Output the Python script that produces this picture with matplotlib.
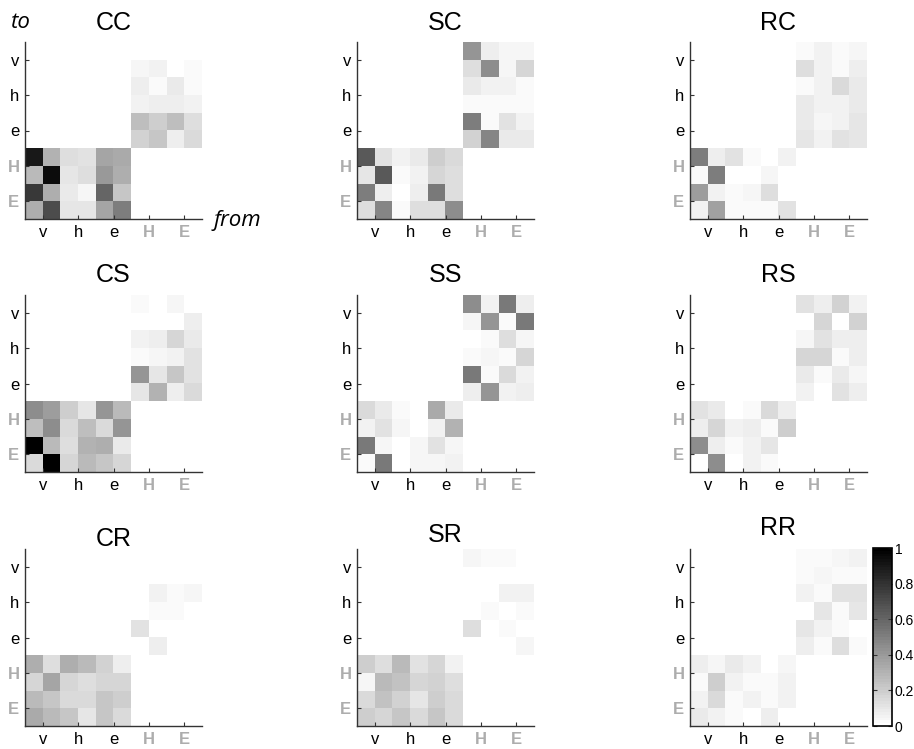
import numpy as np
import matplotlib
matplotlib.use("Agg")
import matplotlib.pyplot as plt

plt.rcParams['font.family'] = ['Liberation Sans', 'DejaVu Sans']

W, H = 914, 749

# panel names, row by row
names = ['CC', 'SC', 'RC', 'CS', 'SS', 'RS', 'CR', 'SR', 'RR']
groups = ['v', 'h', 'e', 'H', 'E']
group_colors = ['black', 'black', 'black', '#adadad', '#adadad']

# upper-right block: rows v,h,e (6) x cols H,E (4)
# lower-left block: rows H,E (4) x cols v,h,e (6)
CC_upper = [[0.00, 0.00, 0.00, 0.00],
            [0.04, 0.06, 0.00, 0.02],
            [0.07, 0.02, 0.09, 0.02],
            [0.05, 0.07, 0.07, 0.05],
            [0.25, 0.20, 0.25, 0.14],
            [0.18, 0.22, 0.07, 0.15]]
CC_lower = [[0.90, 0.30, 0.14, 0.12, 0.35, 0.33],
            [0.28, 0.95, 0.10, 0.13, 0.40, 0.32],
            [0.78, 0.32, 0.09, 0.04, 0.60, 0.22],
            [0.32, 0.70, 0.10, 0.10, 0.35, 0.50]]

SC_upper = [[0.42, 0.07, 0.04, 0.04],
            [0.14, 0.45, 0.04, 0.17],
            [0.08, 0.05, 0.06, 0.03],
            [0.02, 0.02, 0.02, 0.03],
            [0.50, 0.02, 0.12, 0.06],
            [0.18, 0.48, 0.08, 0.08]]
SC_lower = [[0.65, 0.12, 0.06, 0.08, 0.20, 0.15],
            [0.10, 0.65, 0.02, 0.06, 0.16, 0.13],
            [0.50, 0.07, 0.00, 0.07, 0.52, 0.14],
            [0.14, 0.48, 0.02, 0.13, 0.13, 0.45]]

RC_upper = [[0.02, 0.05, 0.02, 0.04],
            [0.13, 0.05, 0.03, 0.07],
            [0.03, 0.05, 0.15, 0.09],
            [0.09, 0.05, 0.06, 0.09],
            [0.08, 0.04, 0.05, 0.10],
            [0.10, 0.05, 0.12, 0.10]]
RC_lower = [[0.50, 0.07, 0.11, 0.02, 0.00, 0.05],
            [0.02, 0.50, 0.00, 0.00, 0.04, 0.00],
            [0.38, 0.06, 0.02, 0.04, 0.14, 0.00],
            [0.06, 0.37, 0.02, 0.02, 0.02, 0.12]]

CS_upper = [[0.02, 0.00, 0.04, 0.00],
            [0.00, 0.00, 0.00, 0.07],
            [0.06, 0.07, 0.16, 0.08],
            [0.02, 0.04, 0.05, 0.12],
            [0.42, 0.10, 0.23, 0.12],
            [0.10, 0.30, 0.07, 0.15]]
CS_lower = [[0.45, 0.38, 0.20, 0.10, 0.42, 0.27],
            [0.25, 0.45, 0.15, 0.25, 0.15, 0.42],
            [1.00, 0.27, 0.13, 0.30, 0.32, 0.09],
            [0.15, 1.00, 0.17, 0.27, 0.23, 0.16]]

SS_upper = [[0.45, 0.06, 0.52, 0.07],
            [0.04, 0.42, 0.02, 0.52],
            [0.00, 0.02, 0.13, 0.04],
            [0.02, 0.04, 0.02, 0.17],
            [0.52, 0.02, 0.15, 0.06],
            [0.07, 0.42, 0.05, 0.07]]
SS_lower = [[0.15, 0.09, 0.02, 0.00, 0.33, 0.09],
            [0.06, 0.12, 0.04, 0.00, 0.05, 0.30],
            [0.52, 0.04, 0.00, 0.04, 0.12, 0.04],
            [0.02, 0.52, 0.00, 0.04, 0.04, 0.06]]

RS_upper = [[0.11, 0.07, 0.18, 0.06],
            [0.00, 0.17, 0.00, 0.18],
            [0.04, 0.11, 0.07, 0.07],
            [0.17, 0.16, 0.02, 0.07],
            [0.09, 0.02, 0.08, 0.04],
            [0.06, 0.00, 0.12, 0.07]]
RS_lower = [[0.11, 0.09, 0.00, 0.02, 0.15, 0.07],
            [0.07, 0.17, 0.06, 0.07, 0.02, 0.20],
            [0.45, 0.07, 0.03, 0.05, 0.10, 0.00],
            [0.00, 0.45, 0.00, 0.05, 0.02, 0.00]]

CR_upper = [[0.00, 0.00, 0.00, 0.00],
            [0.00, 0.00, 0.00, 0.00],
            [0.00, 0.05, 0.02, 0.04],
            [0.00, 0.02, 0.02, 0.00],
            [0.12, 0.00, 0.00, 0.00],
            [0.00, 0.07, 0.00, 0.00]]
CR_lower = [[0.32, 0.13, 0.32, 0.27, 0.18, 0.07],
            [0.17, 0.35, 0.17, 0.13, 0.16, 0.16],
            [0.28, 0.23, 0.15, 0.15, 0.23, 0.20],
            [0.33, 0.28, 0.23, 0.10, 0.23, 0.15]]

SR_upper = [[0.04, 0.02, 0.02, 0.00],
            [0.00, 0.00, 0.00, 0.00],
            [0.00, 0.00, 0.06, 0.06],
            [0.00, 0.02, 0.00, 0.02],
            [0.14, 0.00, 0.02, 0.00],
            [0.00, 0.00, 0.00, 0.04]]
SR_lower = [[0.20, 0.14, 0.27, 0.12, 0.17, 0.06],
            [0.04, 0.27, 0.24, 0.17, 0.18, 0.14],
            [0.15, 0.24, 0.18, 0.10, 0.20, 0.15],
            [0.19, 0.16, 0.22, 0.15, 0.22, 0.15]]

RR_upper = [[0.02, 0.02, 0.04, 0.06],
            [0.02, 0.04, 0.02, 0.03],
            [0.06, 0.02, 0.12, 0.12],
            [0.00, 0.10, 0.03, 0.10],
            [0.10, 0.05, 0.03, 0.00],
            [0.07, 0.02, 0.13, 0.03]]
RR_lower = [[0.07, 0.04, 0.09, 0.05, 0.00, 0.04],
            [0.02, 0.20, 0.06, 0.03, 0.03, 0.06],
            [0.05, 0.15, 0.02, 0.06, 0.02, 0.06],
            [0.09, 0.05, 0.03, 0.00, 0.07, 0.00]]

blocks = {
    'CC': (CC_upper, CC_lower), 'SC': (SC_upper, SC_lower), 'RC': (RC_upper, RC_lower),
    'CS': (CS_upper, CS_lower), 'SS': (SS_upper, SS_lower), 'RS': (RS_upper, RS_lower),
    'CR': (CR_upper, CR_lower), 'SR': (SR_upper, SR_lower), 'RR': (RR_upper, RR_lower),
}

def build_matrix(upper, lower):
    m = np.zeros((10, 10))
    m[0:6, 6:10] = np.array(upper)
    m[6:10, 0:6] = np.array(lower)
    return m

# layout in pixels
col_left = [25, 357, 690]
row_top = [42, 295, 549]
size = 177
title_gap = [[12, 12, 12], [13, 13, 13], [3, 7, 14]]

fig = plt.figure(figsize=(W / 100, H / 100), dpi=100)

def px_axes(x, y, w, h):
    return fig.add_axes([x / W, 1 - (y + h) / H, w / W, h / H])

cmap = plt.get_cmap('gray_r', 64)

im = None
for k, name in enumerate(names):
    r, c = divmod(k, 3)
    ax = px_axes(col_left[c], row_top[r], size, size)
    m = build_matrix(*blocks[name])
    im = ax.imshow(m, cmap=cmap, vmin=0, vmax=1, extent=[0, 10, 10, 0],
                   aspect='auto', interpolation='nearest')
    ax.set_xlim(0, 10)
    ax.set_ylim(10, 0)
    ax.spines['top'].set_visible(False)
    ax.spines['right'].set_visible(False)
    for s in ('left', 'bottom'):
        ax.spines[s].set_color('#333333')
        ax.spines[s].set_linewidth(1.0)
    ticks = [1, 3, 5, 7, 9]
    ax.set_xticks(ticks)
    ax.set_yticks(ticks)
    ax.set_xticklabels(groups)
    ax.set_yticklabels(groups)
    ax.tick_params(direction='in', length=3, width=0.8, color='#333333',
                   labelsize=12, pad=4)
    for lab, col in zip(ax.get_xticklabels(), group_colors):
        lab.set_color(col)
        if col != 'black':
            lab.set_fontweight('bold')
    for lab, col in zip(ax.get_yticklabels(), group_colors):
        lab.set_color(col)
        if col != 'black':
            lab.set_fontweight('bold')
    ax.text(0.5, 1 + title_gap[r][c] / size, name, transform=ax.transAxes,
            ha='center', va='baseline', fontsize=18)

fig.text(11 / W, 1 - 28 / H, 'to', style='italic', fontsize=16, va='baseline',
         family=['Open Sans', 'DejaVu Sans'])
fig.text(214 / W, 1 - 226 / H, 'from', style='italic', fontsize=16, va='baseline',
         family=['Open Sans', 'DejaVu Sans'])

cax = px_axes(873, 548, 19, 178)
cb = fig.colorbar(im, cax=cax)
cb.set_ticks([0, 0.2, 0.4, 0.6, 0.8, 1])
cb.set_ticklabels(['0', '0.2', '0.4', '0.6', '0.8', '1'])
cb.outline.set_linewidth(1.2)
cb.outline.set_edgecolor('black')
cax.tick_params(direction='in', length=3, width=0.8, color='#333333',
                labelsize=10, pad=2, left=True, right=True)

fig.savefig('out.png', dpi=100)
